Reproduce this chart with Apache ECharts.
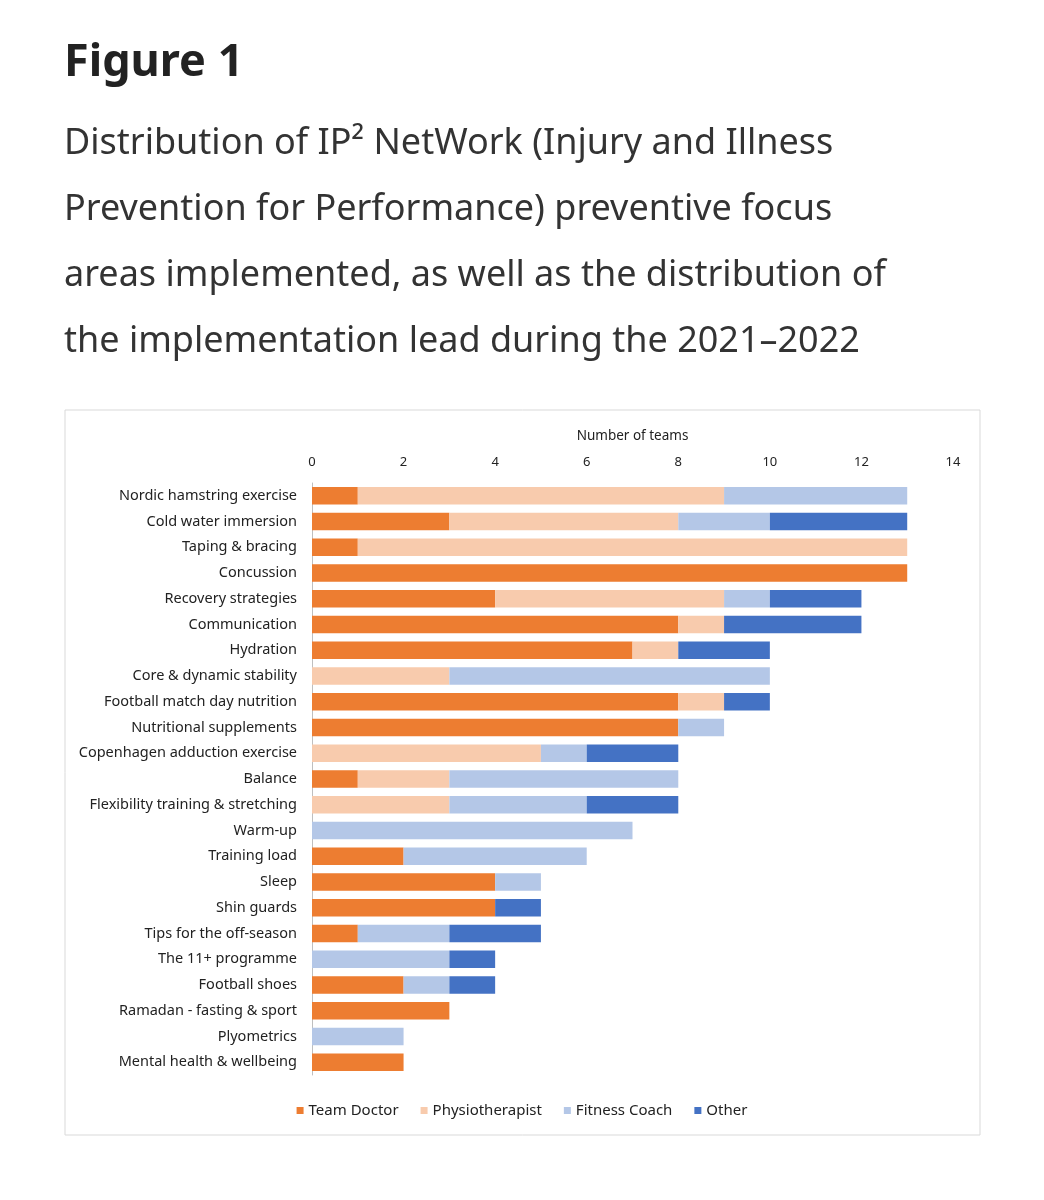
<!DOCTYPE html>
<html><head><meta charset="utf-8">
<script src="https://cdn.jsdelivr.net/npm/echarts@6/dist/echarts.min.js"></script>
<style>html,body{margin:0;padding:0;background:#fff}#c{width:1044px;height:1200px}</style>
</head><body><div id="c"></div>
<script>
const categories = ["Nordic hamstring exercise","Cold water immersion","Taping & bracing","Concussion","Recovery strategies","Communication","Hydration","Core & dynamic stability","Football match day nutrition","Nutritional supplements","Copenhagen adduction exercise","Balance","Flexibility training & stretching","Warm-up","Training load","Sleep","Shin guards","Tips for the off-season","The 11+ programme","Football shoes","Ramadan - fasting & sport","Plyometrics","Mental health & wellbeing"];
const teamDoctor     = [1,3,1,13,4,8,7,0,8,8,0,1,0,0,2,4,4,1,0,2,3,0,2];
const physiotherapist= [8,5,12,0,5,1,1,3,1,0,5,2,3,0,0,0,0,0,0,0,0,0,0];
const fitnessCoach   = [4,2,0,0,1,0,0,7,0,1,1,5,3,7,4,1,0,2,3,1,0,2,0];
const other          = [0,3,0,0,2,3,2,0,1,0,2,0,2,0,0,0,1,2,1,1,0,0,0];
const xTicks = [0,2,4,6,8,10,12,14];
const names = ["Team Doctor","Physiotherapist","Fitness Coach","Other"];
const colors = ["#ED7D31","#F8CBAD","#B4C7E7","#4472C4"];
const data = [teamDoctor, physiotherapist, fitnessCoach, other];
const chart = echarts.init(document.getElementById('c'));
const font = "Noto Sans";
chart.setOption({
  animation:false,
  textStyle:{fontFamily:font},
  title:[
    {text:"Figure 1", left:59, top:36, textStyle:{fontSize:45, fontWeight:'bold', color:'#222', fontFamily:font}},
    {text:"Distribution of IP² NetWork (Injury and Illness\nPrevention for Performance) preventive focus\nareas implemented, as well as the distribution of\nthe implementation lead during the 2021–2022",
     left:59, top:106, textStyle:{fontSize:36, fontWeight:'normal', color:'#333', lineHeight:66, fontFamily:font}}
  ],
  graphic:[{type:'rect', shape:{x:65,y:410,width:915,height:725}, style:{fill:'none', stroke:'#d9d9d9', lineWidth:1}}],
  legend:{bottom:77, left:'center', itemWidth:7, itemHeight:7, itemGap:22, icon:'rect',
    textStyle:{fontSize:15, color:'#222', fontFamily:font}, data:names},
  grid:{left:312, right:91, top:483, bottom:125},
  xAxis:{type:'value', position:'top', min:0, max:14, interval:2,
    name:'Number of teams', nameLocation:'middle', nameGap:40,
    nameTextStyle:{fontSize:13.5, color:'#222'},
    axisLabel:{fontSize:13, color:'#222', margin:14}, splitLine:{show:false}, axisLine:{show:false}, axisTick:{show:false}},
  yAxis:{type:'category', inverse:true, data:categories,
    axisLabel:{fontSize:14.5, color:'#222', margin:15}, axisTick:{show:false},
    axisLine:{lineStyle:{color:'#bfbfbf'}}},
  series: names.map((n,i)=>({name:n, type:'bar', stack:'s', data:data[i], barWidth:'68%',
    itemStyle:{color:colors[i]}}))
});
</script></body></html>
